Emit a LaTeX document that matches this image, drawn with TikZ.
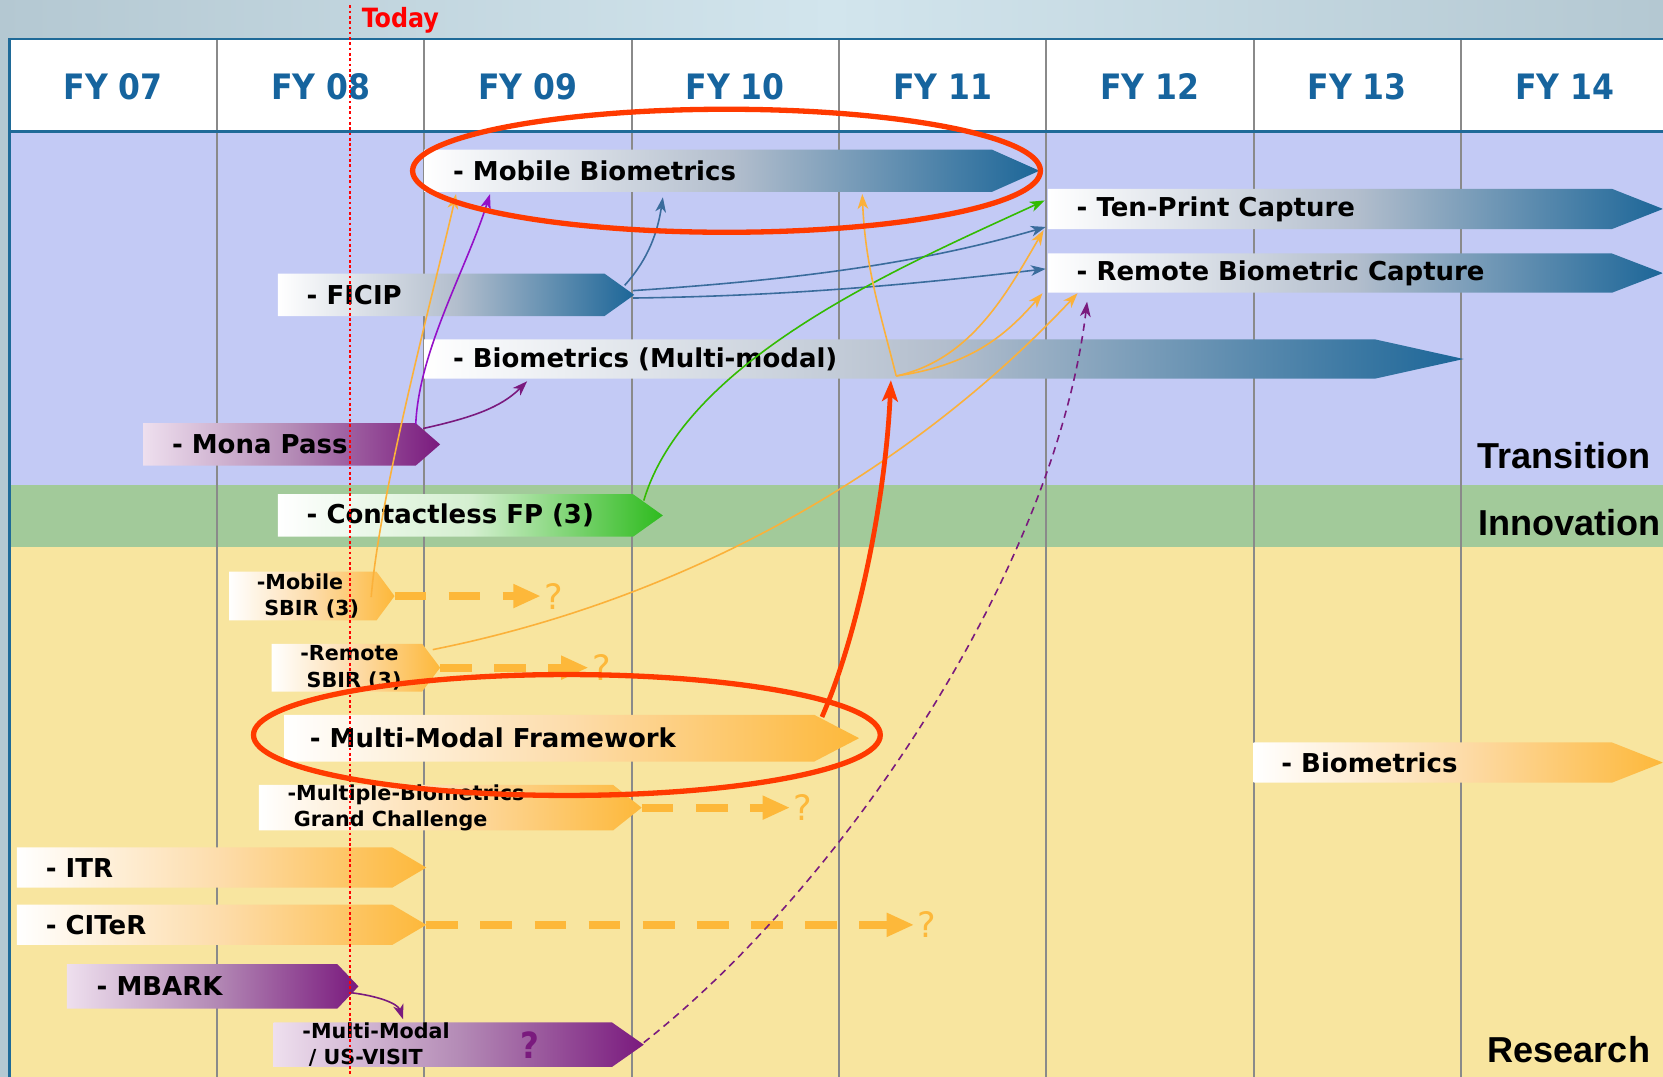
\documentclass[tikz,border=0pt]{standalone}
\usepackage{fontspec}
\setmainfont{DejaVu Sans}
\newfontfamily\condfont{DejaVu Sans Condensed}
\newfontfamily\headfont{Liberation Sans}
\usetikzlibrary{shapes.symbols,arrows.meta,positioning,calc}

\definecolor{bgedge}{HTML}{B4C8D2}
\definecolor{bgmid}{HTML}{D2E5ED}
\definecolor{frameblue}{HTML}{1F6A98}
\definecolor{colgray}{HTML}{8A8A8A}
\definecolor{transband}{HTML}{C3CAF5}
\definecolor{innoband}{HTML}{A2CA9A}
\definecolor{resband}{HTML}{F8E59F}
\definecolor{fyblue}{HTML}{16649E}
\definecolor{barblue}{HTML}{1C6698}
\definecolor{barbluemid}{HTML}{B3BECD}
\definecolor{barpurple}{HTML}{7A1A7E}
\definecolor{barpurplelt}{HTML}{EEDFEE}
\definecolor{barpurplemid}{HTML}{B48BB6}
\definecolor{bargreen}{HTML}{2EBB1E}
\definecolor{bargreenmid}{HTML}{D4EFD0}
\definecolor{barorange}{HTML}{FDB83A}
\definecolor{barorangemid}{HTML}{FDDCAA}
\definecolor{ringred}{HTML}{FF3A00}
\definecolor{todayred}{HTML}{FF0000}
\definecolor{lineorange}{HTML}{FBB13A}
\definecolor{lineblue}{HTML}{3A6C9C}
\definecolor{linegreen}{HTML}{33BB00}
\definecolor{lineviolet}{HTML}{9410C8}
\definecolor{linepurple}{HTML}{7A1A7E}

\tikzset{
  roadbar/.style={signal, signal to=east, draw=none, inner sep=0pt, outer sep=0pt, anchor=west},
  bluebar/.style={left color=white, right color=barblue, middle color=barbluemid},
  purplebar/.style={left color=barpurplelt, right color=barpurple, middle color=barpurplemid},
  greenbar/.style={left color=white, right color=bargreen, middle color=bargreenmid},
  orangebar/.style={left color=white, right color=barorange, middle color=barorangemid},
  lbl/.style={font=\bfseries\fontsize{24.5}{27}\selectfont, inner sep=0pt},
  smalllbl/.style={font=\bfseries\fontsize{19.5}{25}\selectfont, inner sep=0pt, align=left},
  fyhead/.style={font=\condfont\bfseries\fontsize{33}{33}\selectfont, text=fyblue},
  bandlbl/.style={font=\headfont\bfseries\fontsize{34}{34}\selectfont, inner sep=0pt, anchor=east},
  colline/.style={draw=colgray, line width=2pt},
  conn/.style={-{Stealth[length=14pt,width=10pt,inset=4pt]}, line width=1.5pt},
  qarrow/.style={draw=barorange, line width=7.5pt, dash pattern=on 30pt off 21pt,
    -{Triangle[length=26pt,width=21pt]}},
  qmark/.style={font=\fontsize{33}{33}\selectfont, text=barorange, inner sep=0pt},
  ring/.style={draw=ringred, line width=5pt},
  redarrow/.style={draw=ringred, line width=4.5pt, -{Stealth[length=20pt,width=15pt,inset=5pt]}}
}

\begin{document}
\begin{tikzpicture}[x=1pt,y=-1pt]
  \useasboundingbox (0,0) rectangle (1568,1015);
  % background and bands
  \shade[left color=bgedge, right color=bgedge, middle color=bgmid] (0,0) rectangle (1568,1015);
  \fill[transband] (9,124) rectangle (1568,457);
  \fill[innoband] (9,457) rectangle (1568,516);
  \fill[resband] (9,516) rectangle (1568,1015);
  \fill[white] (9,37) rectangle (1568,124);
  \foreach \i in {1,...,7}
    \draw[colline] ({9+195.5*\i},37) -- ({9+195.5*\i},1015);
  \draw[frameblue, line width=2pt] (9,1015) -- (9,37) -- (1568,37);
  \draw[frameblue, line width=3.5pt] (9,124) -- (1568,124);
  \foreach \yr [count=\i from 0] in {07,08,09,10,11,12,13,14}
    \node[fyhead] (fy\yr) at ({9+195.5*(\i+0.5)},82) {FY \yr};

  \node[bandlbl] (trans) at (1556,430) {Transition};
  \node[bandlbl] (inno) at (1566,493) {Innovation};
  \node[bandlbl] (res) at (1556,990) {Research};

  % transition bars
  \node[roadbar, bluebar, minimum width=580pt, minimum height=40pt, signal pointer angle=48] (mb) at (400,161) {};
  \node[roadbar, bluebar, minimum width=580pt, minimum height=38pt, signal pointer angle=43] (tp) at (988,197) {};
  \node[roadbar, bluebar, minimum width=580pt, minimum height=37pt, signal pointer angle=42] (rb) at (988,257.5) {};
  \node[roadbar, bluebar, minimum width=336pt, minimum height=40pt, signal pointer angle=71] (fi) at (262,278) {};
  \node[roadbar, bluebar, minimum width=980pt, minimum height=37pt, signal pointer angle=25] (bm) at (400,338.5) {};
  \node[roadbar, purplebar, minimum width=280pt, minimum height=40pt, signal pointer angle=82] (mp) at (135,419) {};
  % innovation
  \node[roadbar, greenbar, minimum width=363pt, minimum height=40pt, signal pointer angle=71] (cf) at (262,486) {};
  % research
  \node[roadbar, orangebar, minimum width=156pt, minimum height=46pt, signal pointer angle=107] (ms) at (216,562) {};
  \node[roadbar, orangebar, minimum width=159pt, minimum height=45pt, signal pointer angle=106] (rs) at (256,629.5) {};
  \node[roadbar, orangebar, minimum width=542pt, minimum height=44pt, signal pointer angle=55] (mf) at (268,696) {};
  \node[roadbar, orangebar, minimum width=386pt, minimum height=38pt, signal pointer angle=43] (bio) at (1182,719) {};
  \node[roadbar, orangebar, minimum width=361pt, minimum height=43pt, signal pointer angle=77] (gc) at (244,761.5) {};
  \node[roadbar, orangebar, minimum width=386pt, minimum height=38pt, signal pointer angle=61] (itr) at (16,818) {};
  \node[roadbar, orangebar, minimum width=386pt, minimum height=38pt, signal pointer angle=61] (cit) at (16,872) {};
  \node[roadbar, purplebar, minimum width=275pt, minimum height=42pt, signal pointer angle=93] (mbk) at (63,930) {};
  \node[roadbar, purplebar, minimum width=349pt, minimum height=42pt, signal pointer angle=70] (uv) at (258,985) {};

  % bar labels
  \node[lbl, right=27pt of mb.west] (mb-t) {- Mobile Biometrics};
  \node[lbl, right=27pt of tp.west] (tp-t) {- Ten-Print Capture};
  \node[lbl, right=27pt of rb.west] (rb-t) {- Remote Biometric Capture};
  \node[lbl, right=27pt of fi.west] (fi-t) {- FICIP};
  \node[lbl, right=27pt of bm.west] (bm-t) {- Biometrics (Multi-modal)};
  \node[lbl, right=27pt of mp.west] (mp-t) {- Mona Pass};
  \node[lbl, right=27pt of cf.west] (cf-t) {- Contactless FP (3)};
  \node[smalllbl, right=26pt of ms.west] (ms-t) {-Mobile\\\hspace*{7pt}SBIR (3)};
  \node[smalllbl, right=27pt of rs.west] (rs-t) {-Remote\\\hspace*{6pt}SBIR (3)};
  \node[lbl, right=24pt of mf.west] (mf-t) {- Multi-Modal Framework};
  \node[lbl, right=26pt of bio.west] (bio-t) {- Biometrics};
  \node[smalllbl, right=27pt of gc.west] (gc-t) {-Multiple-Biometrics\\\hspace*{6pt}Grand Challenge};
  \node[lbl, right=27pt of itr.west] (itr-t) {- ITR};
  \node[lbl, right=27pt of cit.west] (cit-t) {- CITeR};
  \node[lbl, right=28pt of mbk.west] (mbk-t) {- MBARK};
  \node[smalllbl, right=27pt of uv.west] (uv-t) {-Multi-Modal\\\hspace*{6pt}/ US-VISIT};
  \node[font=\condfont\bfseries\fontsize{34}{34}\selectfont, text=barpurple, inner sep=0pt] (uv-q) at (500,985) {?};

  % open ends
  \node[qmark, right=141pt of ms.east] (ms-q) {?};
  \node[qmark, right=143pt of rs.east] (rs-q) {?};
  \node[qmark, right=143pt of gc.east] (gc-q) {?};
  \node[qmark, right=463pt of cit.east] (cit-q) {?};
  \draw[qarrow] (ms.east) -- ([xshift=-3pt]ms-q.west);
  \draw[qarrow] (rs.east) -- ([xshift=-3pt]rs-q.west);
  \draw[qarrow] (gc.east) -- ([xshift=-3pt]gc-q.west);
  \draw[qarrow] (cit.east) -- ([xshift=-3pt]cit-q.west);

  % today
  \node[font=\condfont\bfseries\fontsize{25}{25}\selectfont, text=todayred, inner sep=0pt, anchor=west] (today) at (341,19) {Today};
  \coordinate (todaytop) at (330,5);
  \coordinate (todaybot) at (330,1015);
  \draw[todayred, line width=2pt, dash pattern=on 2.5pt off 2.5pt] (todaytop) -- (todaybot);

  % links
  \draw[conn, lineorange] ($(ms.west)+(134,1)$) .. controls +(8,-100) and +(-18,80) .. ($(mb.west)+(30,22)$);
  \draw[conn, lineviolet] ($(mp.west)+(257,-19)$) .. controls +(3,-70) and +(-22,70) .. ($(mb.west)+(62,22)$);
  \draw[conn, linepurple] ($(mp.west)+(264,-15)$) .. controls +(45,-10) and +(-25,25) .. ($(bm.west)+(97,21)$);
  \draw[conn, lineblue] ($(fi.west)+(327,-9)$) .. controls +(18,-20) and +(-6,40) .. ($(mb.west)+(225,25)$);
  \draw[conn, lineblue] ($(fi.west)+(335,-4)$) .. controls +(150,-10) and +(-120,35) .. ($(tp.west)+(-2,17)$);
  \draw[conn, lineblue] ($(fi.west)+(335,3)$) .. controls +(150,-2) and +(-120,14) .. ($(rb.west)+(-2,-4)$);
  \draw[conn, linegreen] ($(cf.west)+(345,-14)$) .. controls +(40,-135) and +(-130,60) .. ($(tp.west)+(-3,-8)$);
  \draw[conn, lineorange] ($(bm.west)+(445,16)$) .. controls +(-15,-60) and +(3,70) .. ($(mb.west)+(413,22)$);
  \draw[conn, lineorange] ($(bm.west)+(445,16)$) .. controls +(70,-15) and +(-35,60) .. ($(tp.west)+(-4,20)$);
  \draw[conn, lineorange] ($(bm.west)+(445,16)$) .. controls +(70,-10) and +(-35,40) .. ($(rb.west)+(-5,19)$);
  \draw[conn, lineorange] ($(rs.west)+(152,-17)$) .. controls +(250,-50) and +(-150,160) .. ($(rb.west)+(28,19)$);
  \draw[conn, linepurple, dash pattern=on 7pt off 5pt] ($(uv.west)+(349,-2)$) .. controls +(190,-150) and +(-30,250) .. ($(rb.west)+(37,27)$);
  \draw[conn, linepurple] ($(mbk.west)+(268,6)$) .. controls +(25,3) and +(-5,-15) .. ($(uv.west)+(122,-24)$);
  \draw[redarrow] ($(mf.west)+(507,-20)$) .. controls +(35,-80) and +(-5,110) .. ($(bm.west)+(440,20)$);

  % highlights
  \draw[ring] (685,161) ellipse [x radius=296, y radius=58];
  \draw[ring] (534.5,693) ellipse [x radius=295.5, y radius=57];
\end{tikzpicture}
\end{document}
